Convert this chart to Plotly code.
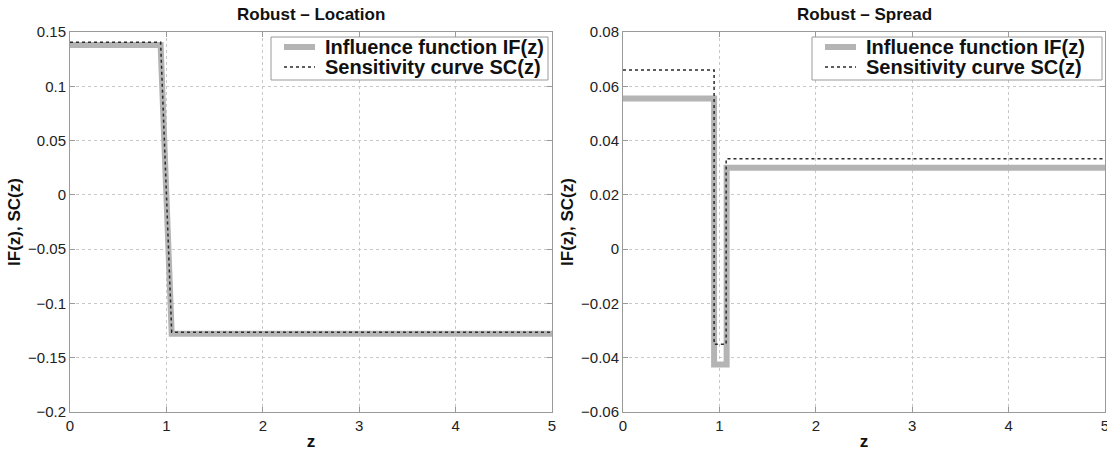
import plotly.graph_objects as go
from plotly.subplots import make_subplots

# Robust location estimator: influence function and sensitivity curve
z_loc = [0, 0.94, 1.055, 5]
if_loc = [0.138, 0.138, -0.128, -0.128]
sc_loc = [0.1405, 0.1405, -0.1265, -0.1265]

# Robust spread estimator
z_spr_if = [0, 0.945, 0.945, 1.075, 1.075, 5]
if_spr = [0.0555, 0.0555, -0.0425, -0.0425, 0.030, 0.030]
z_spr_sc = [0, 0.945, 0.945, 1.07, 1.07, 5]
sc_spr = [0.066, 0.066, -0.035, -0.035, 0.0333, 0.0333]

titles = ["Robust \u2013 Location", "Robust \u2013 Spread"]
names = ["Influence function IF(z)", "Sensitivity curve SC(z)"]

W, H = 1107, 451
ML, MR, MT, MB = 70, 2, 32, 39
PW = W - ML - MR
PH = H - MT - MB

FONT = "Liberation Sans, Arial, Helvetica, sans-serif"
IF_COLOR = "#b4b4b4"
SC_COLOR = "#2a2a2a"
AX_COLOR = "#9a9a9a"
IF_LINE = dict(color=IF_COLOR, width=6)
SC_LINE = dict(color=SC_COLOR, width=1.5, dash="dot")


def px_x(p):
    return (p - ML) / PW


def px_y(p):
    return 1 - (p - MT) / PH


fig = make_subplots(rows=1, cols=2)

fig.add_trace(go.Scatter(x=z_loc, y=if_loc, mode="lines", name=names[0], line=IF_LINE), 1, 1)
fig.add_trace(go.Scatter(x=z_loc, y=sc_loc, mode="lines", name=names[1], line=SC_LINE), 1, 1)
fig.add_trace(go.Scatter(x=z_spr_if, y=if_spr, mode="lines", name=names[0], line=IF_LINE), 1, 2)
fig.add_trace(go.Scatter(x=z_spr_sc, y=sc_spr, mode="lines", name=names[1], line=SC_LINE), 1, 2)

left_dom = [0, 482 / PW]
right_dom = [553 / PW, 1]

axis_common = dict(
    showline=True, linecolor=AX_COLOR, linewidth=1, mirror="ticks",
    ticks="inside", ticklen=5, tickcolor=AX_COLOR,
    showgrid=True, gridcolor="#c8c8c8", griddash="dot", gridwidth=1,
    zeroline=False, tickfont=dict(family=FONT, size=15, color="#222"),
    ticklabeloverflow="allow",
)

title_font = dict(family=FONT, size=17, color="#111", weight="bold")

fig.update_xaxes(**axis_common, range=[0, 5], dtick=1, tick0=0,
                 title=dict(text="z", font=title_font, standoff=4))
fig.update_yaxes(**axis_common,
                 title=dict(text="IF(z), SC(z)", font=title_font, standoff=3))
fig.update_xaxes(domain=left_dom, row=1, col=1)
fig.update_xaxes(domain=right_dom, row=1, col=2)
fig.update_yaxes(range=[-0.2, 0.15], dtick=0.05, tick0=0, row=1, col=1)
fig.update_yaxes(range=[-0.06, 0.08], dtick=0.02, tick0=0, row=1, col=2)

# Legend boxes drawn in the upper right corner of each panel
legend_font = dict(family=FONT, size=20, color="#111", weight="bold")
for box_left, box_right in [(271, 548), (812, 1102)]:
    fig.add_shape(type="rect", xref="paper", yref="paper",
                  x0=px_x(box_left), x1=px_x(box_right), y0=px_y(80), y1=px_y(37),
                  fillcolor="white", line=dict(color=AX_COLOR, width=1), layer="above")
    for row_y, style, label in [(47, IF_LINE, names[0]), (67, SC_LINE, names[1])]:
        fig.add_shape(type="line", xref="paper", yref="paper",
                      x0=px_x(box_left + 13), x1=px_x(box_left + 44),
                      y0=px_y(row_y), y1=px_y(row_y), line=style, layer="above")
        fig.add_annotation(text=label, x=px_x(box_left + 52), y=px_y(row_y),
                           xref="paper", yref="paper", xanchor="left", yanchor="middle",
                           showarrow=False, font=legend_font)

for i, t in enumerate(titles):
    dom = left_dom if i == 0 else right_dom
    fig.add_annotation(text=t, x=sum(dom) / 2, y=px_y(14), xref="paper", yref="paper",
                       xanchor="center", yanchor="middle", showarrow=False,
                       font=dict(family=FONT, size=17, color="#111", weight="bold"))

fig.update_layout(
    width=W, height=H,
    margin=dict(l=ML, r=MR, t=MT, b=MB, autoexpand=False),
    paper_bgcolor="white", plot_bgcolor="white",
    showlegend=False,
)

fig.write_html("out.html")
